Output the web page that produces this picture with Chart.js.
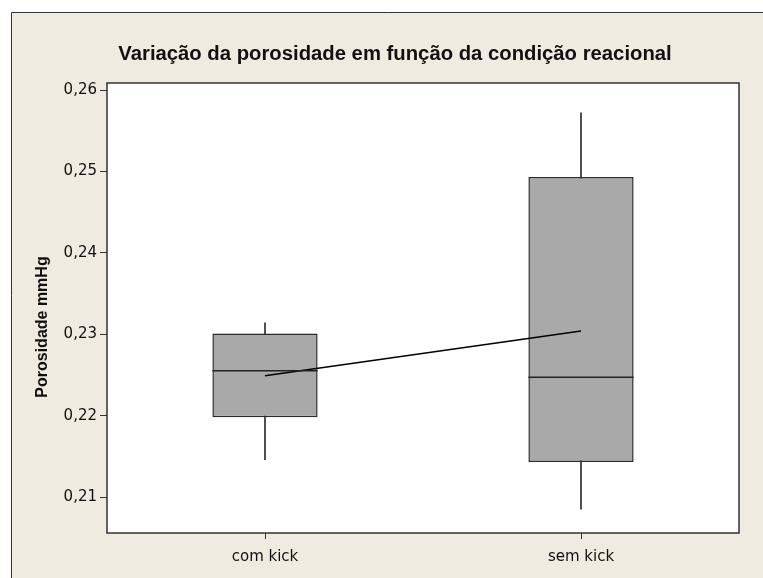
<!DOCTYPE html>
<html><head><meta charset="utf-8">
<script src="https://cdn.jsdelivr.net/npm/chart.js@4.4.0/dist/chart.umd.min.js"></script>
<style>html,body{margin:0;padding:0;background:#fff}canvas{display:block}</style>
</head><body>
<canvas id="c" width="763" height="578"></canvas>
<script>
const categories = ['com kick', 'sem kick'];
const whiskerLow = [0.2146, 0.2085];
const q1 = [0.2198, 0.2143];
const medians = [0.2255, 0.2247];
const q3 = [0.2301, 0.2493];
const whiskerHigh = [0.2314, 0.2572];
const means = [0.2249, 0.2304];
const yTicks = [0.21, 0.22, 0.23, 0.24, 0.25, 0.26];
const yMin = 0.20558, yMax = 0.26086;
const titleText = 'Variação da porosidade em função da condição reacional';
const yTitleText = 'Porosidade mmHg';

const deco = {
  id: 'deco',
  beforeDraw(chart) {
    const ctx = chart.ctx, a = chart.chartArea;
    ctx.save();
    ctx.fillStyle = '#fff'; ctx.fillRect(0, 0, chart.width, chart.height);
    ctx.fillStyle = '#EFEBE1'; ctx.fillRect(11, 12, chart.width, chart.height);
    ctx.strokeStyle = '#333'; ctx.lineWidth = 1;
    ctx.beginPath(); ctx.moveTo(11.5, chart.height); ctx.lineTo(11.5, 12.5); ctx.lineTo(chart.width, 12.5); ctx.stroke();
    ctx.fillStyle = '#fff'; ctx.fillRect(a.left, a.top, a.right - a.left, a.bottom - a.top);
    ctx.restore();
  },
  afterDatasetsDraw(chart) {
    const ctx = chart.ctx, y = chart.scales.y;
    const meta = chart.getDatasetMeta(1);
    ctx.save(); ctx.strokeStyle = '#222'; ctx.lineWidth = 1.5;
    meta.data.forEach((bar, i) => {
      const p = bar.getProps(['x', 'width'], true);
      const py = y.getPixelForValue(medians[i]);
      ctx.beginPath(); ctx.moveTo(p.x - p.width / 2, py); ctx.lineTo(p.x + p.width / 2, py); ctx.stroke();
    });
    ctx.restore();
  },
  afterDraw(chart) {
    const ctx = chart.ctx, a = chart.chartArea;
    ctx.save();
    ctx.strokeStyle = '#333'; ctx.lineWidth = 1.5;
    ctx.strokeRect(a.left, a.top, a.right - a.left, a.bottom - a.top);
    ctx.fillStyle = '#111';
    ctx.font = 'bold 20.3px "Liberation Sans", Arial, sans-serif';
    ctx.textAlign = 'center'; ctx.textBaseline = 'alphabetic';
    ctx.fillText(titleText, 395, 60);
    ctx.translate(43, 327); ctx.rotate(-Math.PI / 2);
    ctx.font = 'bold 16px "Liberation Sans", Arial, sans-serif';
    ctx.textBaseline = 'middle';
    ctx.fillText(yTitleText, 0, 0);
    ctx.restore();
  }
};

new Chart(document.getElementById('c'), {
  type: 'bar',
  data: {
    labels: categories,
    datasets: [
      {
        type: 'line', data: means, borderColor: '#000', borderWidth: 1.5,
        pointRadius: 0, fill: false, order: 1
      },
      {
        data: categories.map((c, i) => [q1[i], q3[i]]),
        backgroundColor: '#A9A9A9', borderColor: '#2a2a2a', borderWidth: 1.5,
        borderSkipped: false, barPercentage: 0.333, categoryPercentage: 1,
        grouped: false, order: 2
      },
      {
        data: categories.map((c, i) => [whiskerLow[i], whiskerHigh[i]]),
        backgroundColor: '#444', borderWidth: 0, barThickness: 1.2,
        grouped: false, order: 3
      }
    ]
  },
  options: {
    responsive: false, devicePixelRatio: 1, animation: false,
    layout: { padding: { top: 83, right: 24, left: 0, bottom: 0 } },
    plugins: { legend: { display: false }, tooltip: { enabled: false }, title: { display: false } },
    scales: {
      x: {
        type: 'category', offset: true,
        grid: { offset: false, drawOnChartArea: false, tickLength: 6, color: '#333' },
        border: { display: false },
        ticks: { font: { family: '"DejaVu Sans"', size: 15 }, color: '#111', padding: 9 },
        afterFit(s) { s.height = 45; }
      },
      y: {
        type: 'linear', min: yMin, max: yMax,
        afterBuildTicks(s) { s.ticks = yTicks.map(v => ({ value: v })); },
        grid: { drawOnChartArea: false, tickLength: 7, color: '#333' },
        border: { display: false },
        ticks: {
          font: { family: '"DejaVu Sans"', size: 15 }, color: '#111', padding: 3,
          callback: v => v.toFixed(2).replace('.', ',')
        },
        afterFit(s) { s.width = 107; }
      }
    }
  },
  plugins: [deco]
});
</script>
</body></html>
